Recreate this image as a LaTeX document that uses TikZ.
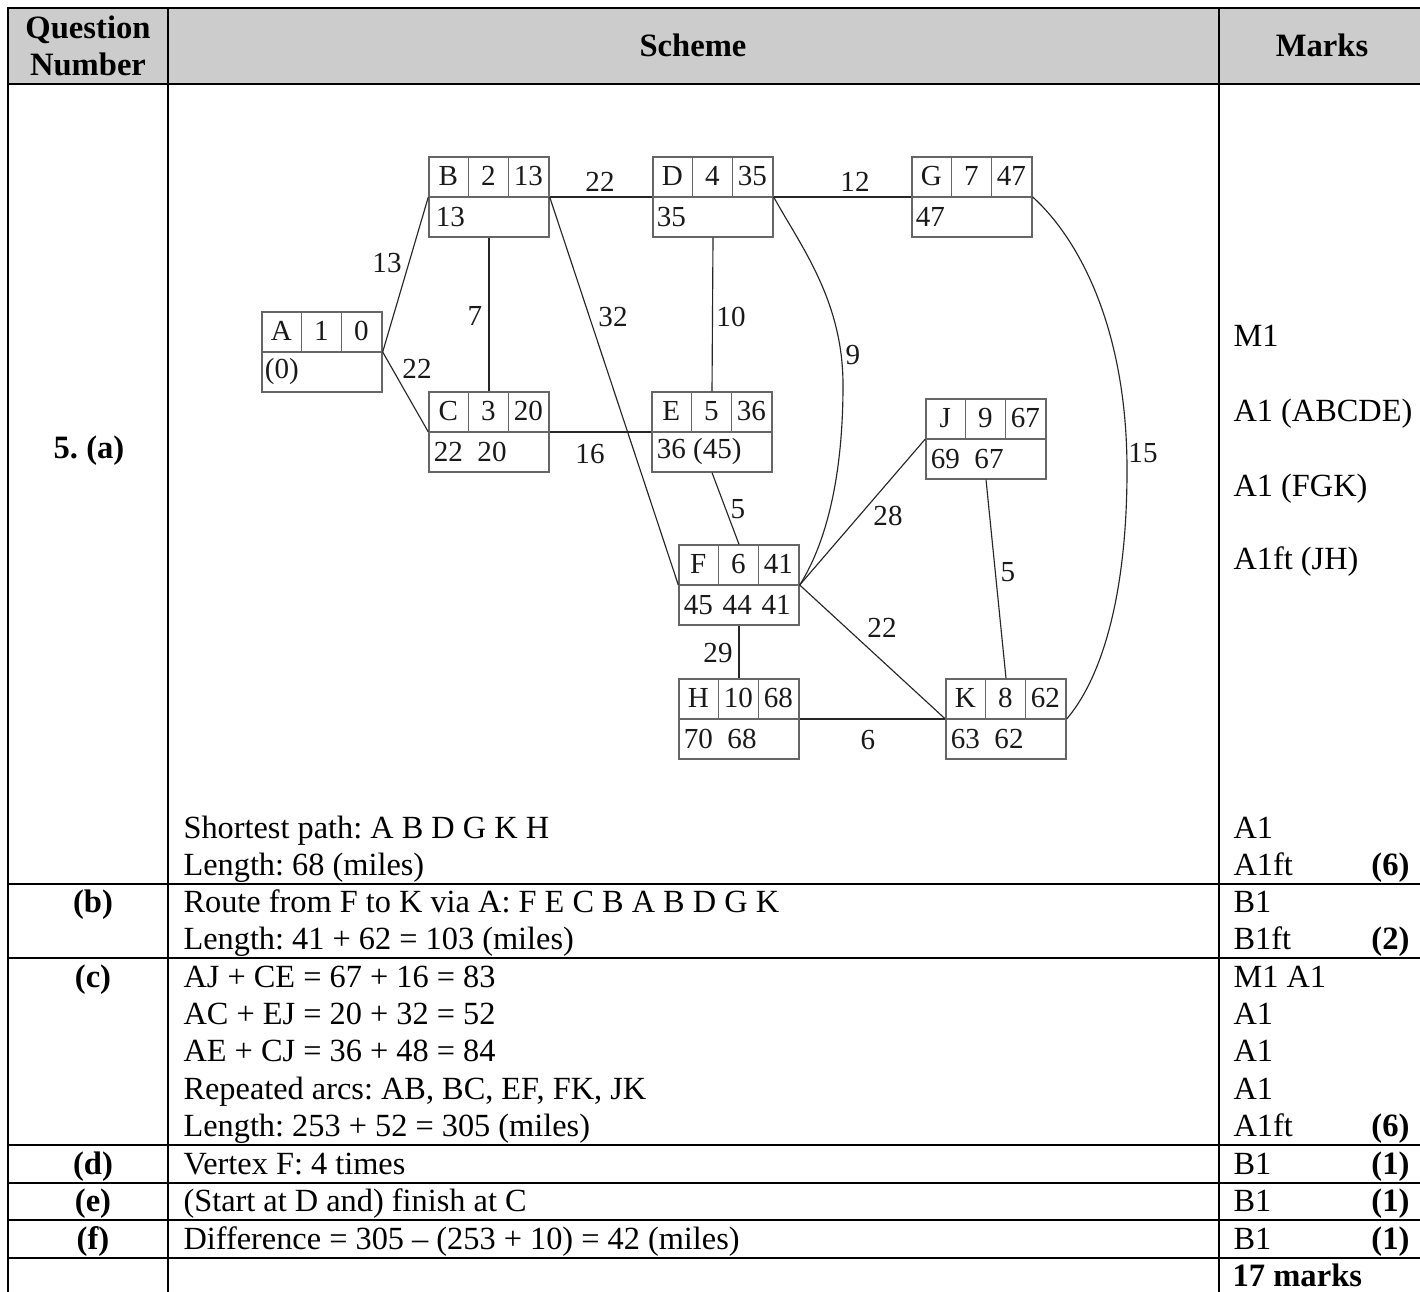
\documentclass[tikz,border=0pt]{standalone}
\usepackage{fontspec}
\setmainfont{Liberation Serif}
\usetikzlibrary{calc}
\newcommand\gbox[8]{%
  \node[gboxst] (#1) at (#2,#3) {};
  \draw[gline] (#1.west) -- (#1.east);
  \draw[gline] ($(#1.north west)+(40,0)$) -- ($(#1.west)+(40,0)$);
  \draw[gline] ($(#1.north west)+(80,0)$) -- ($(#1.west)+(80,0)$);
  \node[gtxt] (#1-l) at ($(#1.north west)+(20,20)$) {#4};
  \node[gtxt] (#1-o) at ($(#1.north west)+(60,20)$) {#5};
  \node[gtxt] (#1-v) at ($(#1.north west)+(100,20)$) {#6};
  \node[gtxt,anchor=west] (#1-w) at ($(#1.west)+(#8,20)$) {#7};
}
\begin{document}
\frenchspacing
\begin{tikzpicture}[x=0.368pt,y=-0.368pt,
  tline/.style={line width=0.55pt,black},
  ttop/.style={line width=0.9pt,black},
  txt/.style={anchor=base west,inner sep=0pt,font=\fontsize{11.9}{14}\selectfont},
  ctxt/.style={anchor=base,inner sep=0pt,font=\fontsize{12}{14}\selectfont\bfseries},
  rtxt/.style={anchor=base east,inner sep=0pt,font=\fontsize{12}{14}\selectfont\bfseries},
  gboxst/.style={draw=black!60,line width=0.5pt,minimum width=44.16pt,minimum height=29.44pt,inner sep=0pt},
  gline/.style={draw=black!60,line width=0.5pt},
  gtxt/.style={inner sep=0pt,text=black!90,font=\fontsize{10.7}{12}\selectfont},
  edge/.style={line width=0.42pt,black!85},
]
\useasboundingbox (0,0) rectangle (1420,1292);
\fill[white] (0,0) rectangle (1420,1292);
% header
\fill[black!20] (8,8) rectangle (1420,84);
\draw[ttop] (7,8) -- (1420,8);
\draw[tline] (8,8) -- (8,1292);
\draw[tline] (168,8) -- (168,1292);
\draw[tline] (1219,8) -- (1219,1292);
\foreach \yy in {84,884,958,1145,1183,1220,1258}{\draw[tline] (8,\yy) -- (1420,\yy);}
\node[ctxt] (hq1) at (88,39) {Question};
\node[ctxt] (hq2) at (88,76) {Number};
\node[ctxt] (hs) at (693,57) {Scheme};
\node[ctxt] (hm) at (1322,57) {Marks};
% question labels
\node[ctxt] (qa) at (89,459) {5. (a)};
\node[ctxt] (qb) at (93,912) {(b)};
\node[ctxt] (qc) at (93,987) {(c)};
\node[ctxt] (qd) at (93,1174) {(d)};
\node[ctxt] (qe) at (93,1211) {(e)};
\node[ctxt] (qf) at (93,1249) {(f)};
% scheme text
\node[txt] (s1) at (183,838) {Shortest path: A B D G K H};
\node[txt] (s2) at (183,875) {Length: 68 (miles)};
\node[txt] (s3) at (183,912) {Route from F to K via A: F E C B A B D G K};
\node[txt] (s4) at (183,949) {Length: 41 + 62 = 103 (miles)};
\node[txt] (s5) at (183,987) {AJ + CE = 67 + 16 = 83};
\node[txt] (s6) at (183,1024) {AC + EJ = 20 + 32 = 52};
\node[txt] (s7) at (183,1061) {AE + CJ = 36 + 48 = 84};
\node[txt] (s8) at (183,1099) {Repeated arcs: AB, BC, EF, FK, JK};
\node[txt] (s9) at (183,1136) {Length: 253 + 52 = 305 (miles)};
\node[txt] (s10) at (183,1174) {Vertex F: 4 times};
\node[txt] (s11) at (183,1211) {(Start at D and) finish at C};
\node[txt] (s12) at (183,1249) {Difference = 305 -- (253 + 10) = 42 (miles)};
% marks
\node[txt] (m1) at (1233,347) {M1};
\node[txt] (m2) at (1233,422) {A1 (ABCDE)};
\node[txt] (m3) at (1233,497) {A1 (FGK)};
\node[txt] (m4) at (1233,570) {A1ft (JH)};
\node[txt] (m5) at (1233,838) {A1};
\node[txt] (m6) at (1233,875) {A1ft};
\node[rtxt] (t1) at (1410,875) {(6)};
\node[txt] (m7) at (1233,912) {B1};
\node[txt] (m8) at (1233,949) {B1ft};
\node[rtxt] (t2) at (1410,949) {(2)};
\node[txt] (m9) at (1233,987) {M1 A1};
\node[txt] (m10) at (1233,1024) {A1};
\node[txt] (m11) at (1233,1061) {A1};
\node[txt] (m12) at (1233,1099) {A1};
\node[txt] (m13) at (1233,1136) {A1ft};
\node[rtxt] (t3) at (1410,1136) {(6)};
\node[txt] (m14) at (1233,1174) {B1};
\node[rtxt] (t4) at (1410,1174) {(1)};
\node[txt] (m15) at (1233,1211) {B1};
\node[rtxt] (t5) at (1410,1211) {(1)};
\node[txt] (m16) at (1233,1249) {B1};
\node[rtxt] (t6) at (1410,1249) {(1)};
\node[txt,font=\fontsize{12}{14}\selectfont\bfseries] (m17) at (1232,1286) {17 marks};
% graph boxes
\gbox{A}{322}{352}{A}{1}{0}{(0)}{3}
\gbox{B}{489}{197}{B}{2}{13}{13}{7}
\gbox{C}{489}{432}{C}{3}{20}{22\enspace20}{5}
\gbox{D}{713}{197}{D}{4}{35}{35}{4}
\gbox{E}{712}{432}{E}{5}{36}{36 (45)}{5}
\gbox{F}{739}{585}{F}{6}{41}{45\hspace{3.6pt}44\hspace{3.6pt}41}{5}
\gbox{G}{972}{197}{G}{7}{47}{47}{4}
\gbox{H}{739}{719}{H}{10}{68}{70\enspace68}{5}
\gbox{J}{986}{439}{J}{9}{67}{69\enspace67}{5}
\gbox{K}{1006}{719}{K}{8}{62}{63\enspace62}{5}
% edges
\draw[edge] (A.east) -- (B.west);
\draw[edge] (A.east) -- (C.west);
\draw[edge] (B.south) -- (C.north);
\draw[edge] (B.east) -- (D.west);
\draw[edge] (D.east) -- (G.west);
\draw[edge] (B.east) -- (F.west);
\draw[edge] (C.east) -- (E.west);
\draw[edge] (D.south) -- (E.north);
\draw[edge] (E.south) -- (F.north);
\draw[edge] (F.east) -- (J.west);
\draw[edge] (F.east) -- (K.west);
\draw[edge] (F.south) -- (H.north);
\draw[edge] (H.east) -- (K.west);
\draw[edge] (J.south) -- (K.north);
\coordinate (dfm) at (843,385);
\draw[edge] (D.east) .. controls (800,245) and (843,300) .. (dfm) .. controls (843,480) and (825,545) .. (F.east);
\coordinate (gkm) at (1127,470);
\draw[edge] (G.east) .. controls (1080,240) and (1127,330) .. (gkm) .. controls (1127,600) and (1100,680) .. (K.east);
% edge labels
\node[gtxt] (lAB) at (387,263) {13};
\node[gtxt] (lAC) at (417,369) {22};
\node[gtxt] (lBC) at (475,316) {7};
\node[gtxt] (lBD) at (600,182) {22};
\node[gtxt] (lBF) at (613,317) {32};
\node[gtxt] (lDE) at (731,317) {10};
\node[gtxt] (lDG) at (855,182) {12};
\node[gtxt] (lCE) at (590,454) {16};
\node[gtxt] (lDF) at (853,355) {9};
\node[gtxt] (lGK) at (1143,453) {15};
\node[gtxt] (lEF) at (738,509) {5};
\node[gtxt] (lFJ) at (888,516) {28};
\node[gtxt] (lFK) at (882,628) {22};
\node[gtxt] (lFH) at (718,653) {29};
\node[gtxt] (lHK) at (868,740) {6};
\node[gtxt] (lJK) at (1008,572) {5};
\end{tikzpicture}
\end{document}
